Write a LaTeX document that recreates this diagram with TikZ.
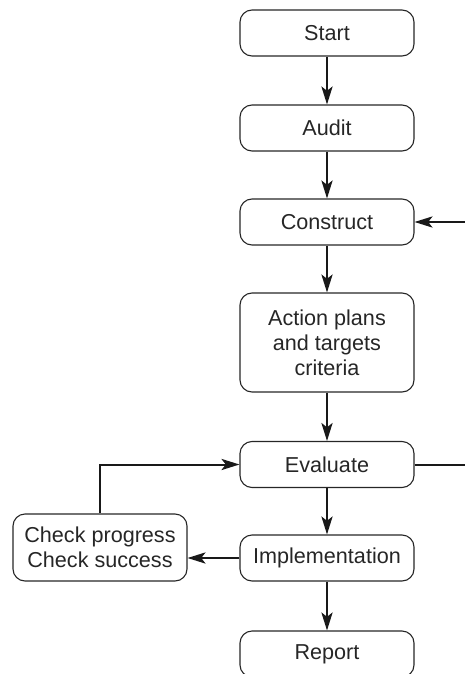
\documentclass[tikz,border=0pt]{standalone}
\usepackage{fontspec}
\setmainfont{Liberation Sans}
\usetikzlibrary{arrows.meta}
\begin{document}
\begin{tikzpicture}[x=0.5pt,y=-0.5pt,
  stage/.style={draw=black!85, line width=0.55pt, rounded corners=6pt,
    minimum width=87pt, minimum height=23pt, inner sep=0pt, align=center,
    font=\fontsize{10.8}{12.4}\selectfont, text=black!85},
  flow/.style={line width=1pt, draw=black!90,
    -{Stealth[length=9pt,width=5.6pt,inset=2.2pt]}},
  link/.style={line width=1pt, draw=black!90}]
\useasboundingbox (0,0) rectangle (465,674);
\clip (0,0) rectangle (465,674);
% main column of stages
\node[stage] (start) at (327,33) {Start};
\node[stage] (audit) at (327,128) {Audit};
\node[stage] (construct) at (327,222) {Construct};
\node[stage, minimum height=49.5pt] (plans) at (327,342.5) {Action plans\\and targets\\criteria};
\node[stage] (evaluate) at (327,464.5) {Evaluate};
\node[stage] (implement) at (327,558) {Implementation};
\node[stage] (report) at (327,654) {Report};
% side loop
\node[stage, minimum height=33.5pt] (check) at (100,547.5) {Check progress\\Check success};
\coordinate (cin) at (465,222);
\coordinate (eout) at (465,464.5);
% connectors
\draw[flow] (start) -- (audit);
\draw[flow] (audit) -- (construct);
\draw[flow] (construct) -- (plans);
\draw[flow] (plans) -- (evaluate);
\draw[flow] (evaluate) -- (implement);
\draw[flow] (implement) -- (report);
\draw[flow] (cin) -- (construct);
\draw[link] (evaluate) -- (eout);
\draw[flow] (check.north) |- (evaluate.west);
\draw[flow] (implement.west) -- (implement.west -| check.east);
\end{tikzpicture}
\end{document}
